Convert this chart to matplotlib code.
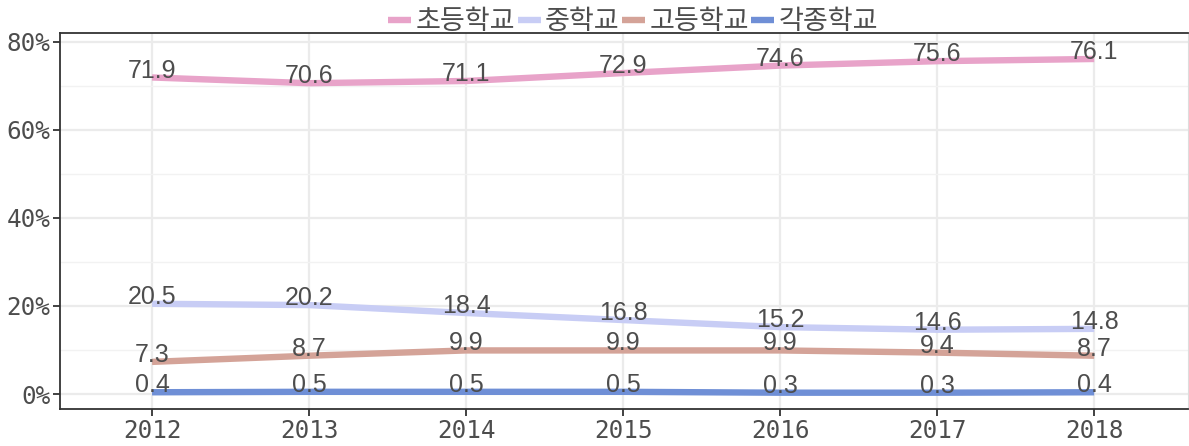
import matplotlib.pyplot as plt
from matplotlib.ticker import MultipleLocator, FuncFormatter

years = [2012, 2013, 2014, 2015, 2016, 2017, 2018]
series_names = ['초등학교', '중학교', '고등학교', '각종학교']
elementary = [71.9, 70.6, 71.1, 72.9, 74.6, 75.6, 76.1]
middle = [20.5, 20.2, 18.4, 16.8, 15.2, 14.6, 14.8]
high = [7.3, 8.7, 9.9, 9.9, 9.9, 9.4, 8.7]
misc = [0.4, 0.5, 0.5, 0.5, 0.3, 0.3, 0.4]
colors = ['#E8A3C9', '#C8CDF5', '#D4A398', '#6F8FD6']

fig = plt.figure(figsize=(11.89, 4.46), dpi=100)
ax = fig.add_axes([0.0505, 0.083, 0.949, 0.843])

label_font = ['Liberation Sans', 'DejaVu Sans']
for name, vals, col in zip(series_names, [elementary, middle, high, misc], colors):
    ax.plot(years, vals, color=col, lw=4.6, label=name, solid_capstyle='butt', zorder=3)
    for x, y in zip(years, vals):
        ax.annotate(f'{y:.1f}', (x, y), xytext=(0, 5), textcoords='offset points',
                    ha='center', va='center', fontsize=18, color='#4D4D4D',
                    family=label_font, zorder=4)

ax.set_xlim(2011.414, 2018.6)
ax.set_ylim(-3.4, 82)
ax.set_xticks(years)
ax.yaxis.set_major_locator(MultipleLocator(20))
ax.yaxis.set_minor_locator(MultipleLocator(10))
ax.yaxis.set_major_formatter(FuncFormatter(lambda v, p: f'{v:.0f}%'))

ax.grid(which='major', color='#EBEBEB', lw=1.6, zorder=0)
ax.grid(which='minor', axis='y', color='#F2F2F2', lw=1.0, zorder=0)
ax.set_axisbelow(True)

for s in ['left', 'bottom', 'top']:
    ax.spines[s].set_color('#333333')
    ax.spines[s].set_linewidth(1.3)
ax.spines['right'].set_color('#DDDDDD')

ax.tick_params(which='major', length=5, width=1.3, color='#333333',
               labelsize=17.5, labelcolor='#4D4D4D', pad=2)
ax.tick_params(which='minor', length=0)
for t in ax.get_xticklabels() + ax.get_yticklabels():
    t.set_family('DejaVu Sans Mono')

leg = ax.legend(loc='lower center', bbox_to_anchor=(0.508, 0.965), ncol=4, frameon=False,
                handlelength=0.85, handletextpad=0.15, columnspacing=0.1,
                borderaxespad=0, prop={'family': ['Noto Sans CJK KR', 'DejaVu Sans'], 'size': 19.5})
for t in leg.get_texts():
    t.set_color('#4D4D4D')

fig.savefig('out.png', dpi=100)
